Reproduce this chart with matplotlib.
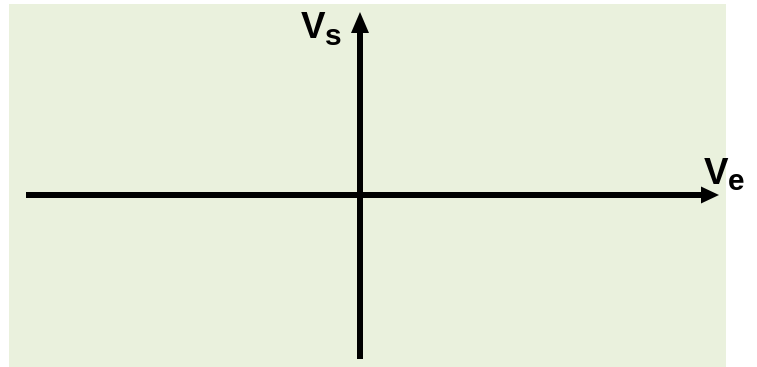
import matplotlib
matplotlib.use("Agg")
import matplotlib.pyplot as plt
from matplotlib.patches import Rectangle

W, H = 757, 367
# diagram geometry (pixel units)
panel = [9, 4, 726, 367]           # x0, y0, x1, y1
h_axis = [26, 719, 195]            # x start, x end, y
v_axis = [360, 359, 12]            # x, y start, y end
labels = ["V", "s", "V", "e"]

fig = plt.figure(figsize=(W / 100, H / 100), dpi=100)
ax = fig.add_axes([0, 0, 1, 1])
ax.set_xlim(0, W)
ax.set_ylim(H, 0)
ax.axis("off")

ax.add_patch(Rectangle((panel[0], panel[1]), panel[2] - panel[0], panel[3] - panel[1],
                       facecolor="#EAF1DD", edgecolor="none"))

ax.arrow(h_axis[0], h_axis[2], h_axis[1] - h_axis[0], 0, width=6, head_width=17,
         head_length=18, length_includes_head=True, color="black", lw=0)
ax.arrow(v_axis[0], v_axis[1], 0, v_axis[2] - v_axis[1], width=6, head_width=18,
         head_length=21, length_includes_head=True, color="black", lw=0)

fnt = dict(family="Liberation Sans", weight="bold", color="black")
ax.text(301, 38.5, labels[0], fontsize=26.5, ha="left", va="baseline", **fnt)
ax.text(325.5, 45, labels[1], fontsize=21.5, ha="left", va="baseline", **fnt)
ax.text(704, 183.5, labels[2], fontsize=26.5, ha="left", va="baseline", **fnt)
ax.text(728, 189.5, labels[3], fontsize=21.5, ha="left", va="baseline", **fnt)

fig.savefig("out.png", dpi=100)
